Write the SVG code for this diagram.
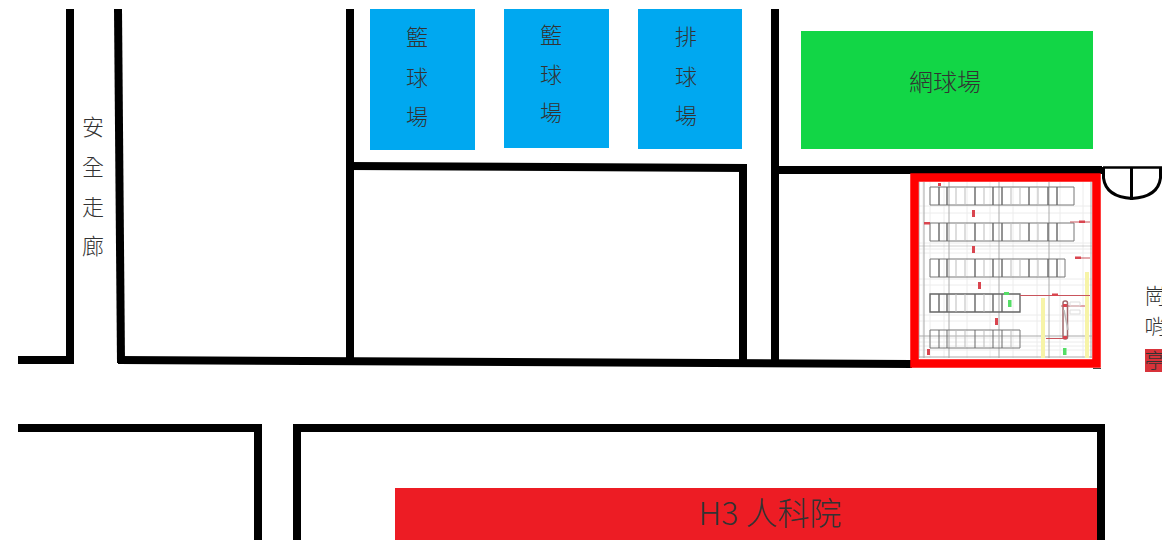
<svg xmlns="http://www.w3.org/2000/svg" width="1171" height="540" viewBox="0 0 1171 540">
<style>
.wall{fill:none;stroke:#000;stroke-width:8;stroke-linecap:butt;stroke-linejoin:miter}
.lbl{font-family:"Noto Sans CJK TC","Noto Sans",sans-serif;font-size:22px;font-weight:300;fill:#333;text-anchor:middle;dominant-baseline:central}
.g1{stroke:#ececec;stroke-width:1;fill:none}
.g2{stroke:#aaa;stroke-width:1;fill:none}
.row{stroke:#777;stroke-width:1;fill:none}
.dk{stroke:#666;stroke-width:1.400;fill:none}
.lt{stroke:#bbb;stroke-width:1;fill:none}
.dim{stroke:#c9545c;stroke-width:1;fill:none}
.tag{fill:#d9454f}
.grn{fill:#55dd66}
.yel{fill:#f7f4a8}
</style>
<defs>
<clipPath id="edge"><rect x="0" y="0" width="1162" height="540"/></clipPath>
</defs>
<rect width="1171" height="540" fill="#fff"/>

<g id="connectors">
<path class="wall" d="M70 9V363"/>
<path class="wall" d="M118 9L121 363"/>
<path class="wall" d="M350 9V360"/>
<path class="wall" d="M347 166L747 168"/>
<path class="wall" d="M743 168V360"/>
<path class="wall" d="M775 9V360"/>
<path class="wall" d="M771 170H1102"/>
<path class="wall" d="M18 360H74"/>
<path class="wall" d="M118 360L912 364"/>
<path class="wall" d="M18 428H262"/>
<path class="wall" d="M258 428V540"/>
<path class="wall" d="M297 540V428H1101V540"/>
</g>

<g id="court-basketball-1">
<rect x="370" y="9" width="105" height="141" fill="#00a8f0"/>
<text class="lbl" x="417" y="35">籃</text><text class="lbl" x="417" y="76">球</text><text class="lbl" x="417" y="115">場</text>
</g>
<g id="court-basketball-2">
<rect x="504" y="9" width="105" height="139" fill="#00a8f0"/>
<text class="lbl" x="551" y="33">籃</text><text class="lbl" x="551" y="73">球</text><text class="lbl" x="551" y="111">場</text>
</g>
<g id="court-volleyball">
<rect x="638" y="9" width="104" height="140" fill="#00a8f0"/>
<text class="lbl" x="686" y="35">排</text><text class="lbl" x="686" y="75">球</text><text class="lbl" x="686" y="114">場</text>
</g>
<g id="court-tennis">
<rect x="801" y="31" width="292" height="118" fill="#12d646"/>
<text class="lbl" x="945" y="80" style="font-size:24px">網球場</text>
</g>
<g id="safety-corridor">
<text class="lbl" x="93" y="125">安</text><text class="lbl" x="93" y="165">全</text><text class="lbl" x="93" y="205">走</text><text class="lbl" x="93" y="244">廊</text>
</g>
<g id="gate">
<path d="M1103 167.500H1162" stroke="#000" stroke-width="2.500"/>
<path d="M1103.500 167V178Q1106 197 1132 198.500Q1158 197 1160.500 178V167" fill="none" stroke="#000" stroke-width="3"/>
<path d="M1131.500 167V200" stroke="#000" stroke-width="3"/>
</g>
<g id="guard-post" clip-path="url(#edge)">
<rect x="1145" y="349" width="17" height="23" fill="#d8333a"/>
<text class="lbl" x="1155" y="294" style="font-size:21px">崗</text>
<text class="lbl" x="1155" y="325" style="font-size:21px">哨</text>
<text class="lbl" x="1155" y="359" style="font-size:21px">亭</text>
</g>

<g id="parking-plan">
<rect x="914" y="177" width="183" height="187" fill="#fff"/>
<path class="g1" d="M923 182V358M930 182V358M944 182V358M967 182V358M990 182V358M1013 182V358M1037 182V358M1060 182V358M1083 182V358M919 206H1092M919 213H1092M919 243H1092M919 249H1092M919 253H1092M919 279H1092M919 285H1092M919 315H1092M919 321H1092M919 338H1092M919 342H1092M919 346H1092M919 350H1092"/>
<path class="g2" d="M919 182V358M924 182V358M949 182V358M999 182V358M1049 182V358M1091 182V358M919 336H1092M919 357H1092"/>
<path class="g2" d="M919 246H1092" stroke-opacity=".5"/>
<rect class="yel" x="1041" y="298" width="4" height="60"/>
<rect class="yel" x="1085" y="272" width="4" height="86"/>
<path class="row" d="M930 187H1074V205H930ZM930 223H1074V241H930ZM930 259H1065V277H930ZM930 330H1020V348H930Z"/>
<path class="dk" d="M939 187V205M947 187V205M975 187V205M993 187V205M1002 187V205M1029 187V205M1048 187V205M1057 187V205"/>
<path class="dk" d="M939 223V241M947 223V241M975 223V241M993 223V241M1002 223V241M1029 223V241M1048 223V241M1057 223V241"/>
<path class="dk" d="M939 259V277M947 259V277M975 259V277M993 259V277M1002 259V277M1029 259V277M1048 259V277M1057 259V277"/>
<path class="dk" d="M930 294H1020V312H930ZM939 294V312M947 294V312M975 294V312M993 294V312M1002 294V312"/>
<path class="dk" d="M939 330V348M947 330V348M975 330V348M993 330V348M1002 330V348" stroke-opacity=".7"/>
<path class="lt" d="M956 259V277M965 259V277M984 259V277M1011 259V277M1020 259V277M1038 259V277M956 294V312M965 294V312M984 294V312M956 330V348M965 330V348M984 330V348M1011 330V348M956 187V205M965 187V205M984 187V205M1011 187V205M1020 187V205M1038 187V205M956 223V241M965 223V241M984 223V241M1011 223V241M1020 223V241M1038 223V241"/>
<path class="dim" d="M1020 295.500H1090M1070 222H1090M1075 258H1090M1061 306H1085M1046 338.500H1066"/>
<rect x="1063" y="301" width="4.500" height="38" rx="2" fill="none" stroke="#a0676b" stroke-width="1.500"/>
<path d="M1064 310L1068 330" stroke="#bbb" stroke-width="1.500" fill="none"/>
<path d="M1070 302H1080V306H1070ZM1070 310H1080V314H1070Z" fill="none" stroke="#ddd"/>
<rect class="tag" x="938" y="183" width="3" height="3"/>
<rect class="tag" x="924" y="222" width="6" height="2.500"/>
<rect class="tag" x="1079" y="220.500" width="6" height="2.500"/>
<rect class="tag" x="972" y="210" width="3" height="7"/>
<rect class="tag" x="972" y="246" width="3" height="7"/>
<rect class="tag" x="1075" y="256.500" width="6" height="2.500"/>
<rect class="tag" x="978" y="282" width="3" height="7"/>
<rect class="tag" x="1052" y="293.500" width="6" height="2.500"/>
<rect class="tag" x="995" y="318" width="3" height="7"/>
<rect class="tag" x="927" y="349" width="3" height="6"/>
<rect class="tag" x="1063" y="304" width="4" height="3"/>
<rect class="tag" x="1063" y="336" width="4" height="3"/>
<rect class="grn" x="1004" y="292" width="5" height="3"/>
<rect class="grn" x="1008" y="300" width="3.500" height="7"/>
<rect class="grn" x="1063" y="348" width="3.500" height="7"/>
</g>
<path id="parking-frame" d="M914.500 177.500H1096.500V363.500H914.500Z" fill="none" stroke="#f00" stroke-width="8.500"/>
<path d="M1093 368.500H1101" stroke="#444" stroke-width="1"/>

<g id="building-h3">
<rect x="395" y="488" width="702" height="52" fill="#ed1c24"/>
<text class="lbl" x="770" y="511" style="font-size:32px">H3 人科院</text>
</g>
</svg>
